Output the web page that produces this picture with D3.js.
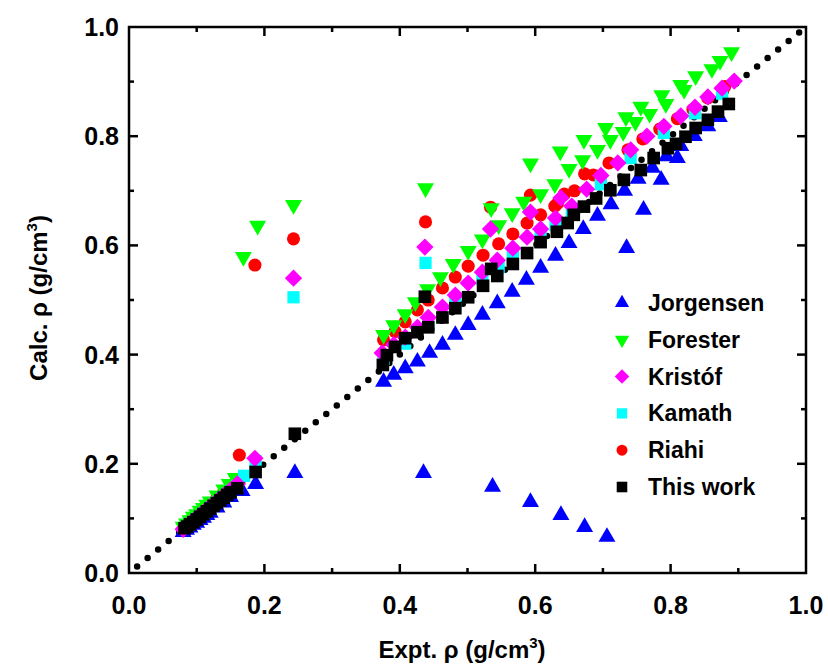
<!DOCTYPE html>
<html>
<head>
<meta charset="utf-8">
<script src="https://cdn.jsdelivr.net/npm/d3@7"></script>
<style>
  body { margin: 0; background: #fff; }
  svg text { font-family: Arial, "Liberation Sans", sans-serif; font-weight: bold; }
</style>
</head>
<body>
<script>
// expt density vs calculated density, per force field
const jorgensen = [
  [0.08,0.075],[0.085,0.079],[0.09,0.083],[0.095,0.088],[0.10,0.092],[0.105,0.097],[0.11,0.101],
  [0.115,0.106],[0.12,0.11],[0.13,0.12],[0.14,0.129],[0.15,0.139],[0.167,0.15],[0.187,0.163],[0.245,0.183],
  [0.376,0.350],[0.391,0.363],[0.408,0.375],[0.426,0.387],[0.444,0.403],[0.463,0.418],[0.482,0.436],
  [0.501,0.454],[0.522,0.473],[0.544,0.494],[0.566,0.515],[0.587,0.537],[0.608,0.559],[0.630,0.581],
  [0.650,0.604],[0.671,0.630],[0.692,0.654],[0.712,0.675],[0.732,0.700],[0.752,0.722],[0.773,0.742],
  [0.794,0.763],[0.815,0.782],[0.835,0.800],[0.855,0.818],[0.872,0.835],
  [0.435,0.183],[0.537,0.158],[0.593,0.130],[0.638,0.106],[0.673,0.084],[0.706,0.066],
  [0.735,0.595],[0.760,0.665],[0.786,0.720],[0.810,0.760]
];
const forester = [
  [0.08,0.085],[0.085,0.091],[0.09,0.097],[0.095,0.103],[0.10,0.108],[0.105,0.114],[0.11,0.119],
  [0.115,0.125],[0.12,0.131],[0.13,0.142],[0.14,0.153],[0.148,0.163],[0.157,0.174],
  [0.169,0.579],[0.19,0.636],[0.243,0.674],[0.438,0.705],[0.535,0.668],
  [0.376,0.436],[0.391,0.454],[0.408,0.474],[0.423,0.496],[0.441,0.520],[0.460,0.542],[0.479,0.566],
  [0.501,0.590],[0.522,0.611],[0.546,0.637],[0.566,0.659],[0.583,0.680],[0.608,0.694],[0.629,0.712],
  [0.650,0.740],[0.670,0.756],[0.692,0.775],[0.711,0.793],[0.730,0.808],[0.748,0.826],[0.769,0.841],
  [0.793,0.859],[0.820,0.885],
  [0.593,0.750],[0.637,0.772],[0.672,0.793],[0.704,0.815],[0.734,0.835],[0.756,0.854],[0.787,0.875],
  [0.815,0.894],[0.837,0.910],[0.861,0.923],[0.873,0.938],[0.890,0.954]
];
const kristof = [
  [0.08,0.08],[0.085,0.086],[0.09,0.091],[0.095,0.096],[0.10,0.101],[0.105,0.106],[0.11,0.111],
  [0.115,0.116],[0.12,0.122],[0.13,0.132],[0.14,0.142],[0.15,0.152],[0.16,0.163],
  [0.186,0.21],[0.243,0.54],[0.437,0.597],[0.534,0.630],[0.593,0.661],[0.638,0.687],
  [0.374,0.403],[0.391,0.418],[0.408,0.432],[0.426,0.450],[0.442,0.468],[0.463,0.487],[0.482,0.509],
  [0.501,0.531],[0.522,0.551],[0.544,0.573],[0.567,0.595],[0.588,0.615],[0.608,0.630],[0.630,0.650],
  [0.654,0.672],[0.676,0.703],[0.697,0.728],[0.722,0.751],[0.741,0.775],[0.765,0.800],[0.790,0.818],
  [0.815,0.837],[0.836,0.853],[0.855,0.872],[0.876,0.888],[0.894,0.901]
];
const kamath = [
  [0.09,0.089],[0.10,0.099],[0.11,0.109],[0.12,0.119],[0.13,0.129],[0.14,0.139],[0.15,0.149],
  [0.16,0.159],[0.17,0.178],[0.187,0.205],[0.243,0.505],[0.438,0.568],
  [0.376,0.392],[0.408,0.420],[0.442,0.455],[0.482,0.495],[0.522,0.538],[0.546,0.560],[0.567,0.580],
  [0.608,0.618],[0.630,0.637],[0.654,0.660],[0.697,0.712],[0.741,0.760],[0.790,0.806],[0.836,0.842],
  [0.876,0.878]
];
const riahi = [
  [0.08,0.083],[0.085,0.089],[0.09,0.095],[0.095,0.10],[0.10,0.105],[0.105,0.11],[0.11,0.116],
  [0.115,0.121],[0.12,0.127],[0.13,0.137],[0.14,0.148],[0.15,0.158],
  [0.163,0.216],[0.186,0.564],[0.243,0.612],[0.438,0.643],[0.534,0.670],[0.593,0.692],
  [0.376,0.427],[0.393,0.442],[0.408,0.460],[0.426,0.482],[0.442,0.500],[0.463,0.522],[0.482,0.542],
  [0.501,0.562],[0.523,0.582],[0.546,0.603],[0.567,0.621],[0.588,0.641],[0.608,0.656],[0.629,0.672],
  [0.633,0.677],[0.643,0.694],[0.658,0.700],[0.673,0.731],[0.686,0.729],[0.709,0.751],[0.737,0.775],
  [0.759,0.795],[0.784,0.813],[0.810,0.832],[0.833,0.849],[0.855,0.870],[0.880,0.891]
];
const thisWork = [
  [0.082,0.082],[0.086,0.085],[0.09,0.089],[0.095,0.093],[0.10,0.098],[0.105,0.103],[0.11,0.108],
  [0.115,0.113],[0.12,0.118],[0.125,0.123],[0.13,0.128],[0.135,0.133],[0.14,0.138],[0.145,0.143],
  [0.15,0.148],[0.16,0.155],[0.187,0.185],[0.245,0.255],
  [0.437,0.506],[0.535,0.557],
  [0.375,0.381],[0.381,0.399],[0.393,0.414],[0.408,0.430],[0.426,0.441],[0.442,0.450],[0.463,0.468],
  [0.482,0.485],[0.501,0.505],[0.523,0.526],[0.544,0.544],[0.567,0.566],[0.588,0.586],[0.608,0.606],
  [0.632,0.625],[0.648,0.641],[0.657,0.656],[0.672,0.671],[0.690,0.686],[0.711,0.701],[0.731,0.720],
  [0.756,0.738],[0.775,0.760],[0.796,0.778],[0.808,0.786],[0.822,0.799],[0.837,0.815],[0.855,0.830],
  [0.870,0.845],[0.886,0.859]
];

const seriesNames = ["Jorgensen", "Forester", "Kristóf", "Kamath", "Riahi", "This work"];
const xTicks = [0.0, 0.2, 0.4, 0.6, 0.8, 1.0];
const yTicks = [0.0, 0.2, 0.4, 0.6, 0.8, 1.0];
const minorTicks = [0.1, 0.3, 0.5, 0.7, 0.9];

const width = 828, height = 667;
const margin = {left: 129, right: 22, top: 27, bottom: 94};

const svg = d3.select("body").append("svg")
    .attr("width", width)
    .attr("height", height);

const x = d3.scaleLinear().domain([0, 1]).range([margin.left, width - margin.right]);
const y = d3.scaleLinear().domain([0, 1]).range([height - margin.bottom, margin.top]);

// marker styles, drawing order = legend order except Riahi below the diamonds
const styles = {
    "Jorgensen": {data: jorgensen, color: "#0000ff", type: d3.symbolTriangle, size: 125, rot: 0},
    "Riahi":     {data: riahi, color: "#ff0000", type: d3.symbolCircle, size: 135, rot: 0},
    "Forester":  {data: forester, color: "#00ff00", type: d3.symbolTriangle, size: 125, rot: 180},
    "Kamath":    {data: kamath, color: "#00ffff", type: d3.symbolSquare, size: 150, rot: 0},
    "Kristóf":   {data: kristof, color: "#ff00ff", type: d3.symbolSquare, size: 150, rot: 45},
    "This work": {data: thisWork, color: "#000000", type: d3.symbolSquare, size: 160, rot: 0}
};
const drawOrder = ["Jorgensen", "Riahi", "Forester", "Kamath", "Kristóf", "This work"];

// y = x reference line
svg.append("line")
    .attr("x1", x(0.012)).attr("y1", y(0.012))
    .attr("x2", x(1)).attr("y2", y(1))
    .attr("stroke", "#000")
    .attr("stroke-width", 6.5)
    .attr("stroke-linecap", "round")
    .attr("stroke-dasharray", "0 13.5");

drawOrder.forEach(name => {
    const s = styles[name];
    const sym = d3.symbol().type(s.type).size(s.size);
    svg.append("g").selectAll("path")
        .data(s.data)
        .join("path")
        .attr("d", sym)
        .attr("fill", s.color)
        .attr("transform", d => `translate(${x(d[0])},${y(d[1])}) rotate(${s.rot})`);
});

// frame
svg.append("rect")
    .attr("x", x(0)).attr("y", y(1))
    .attr("width", x(1) - x(0)).attr("height", y(0) - y(1))
    .attr("fill", "none").attr("stroke", "#000").attr("stroke-width", 2.5);

const tickG = svg.append("g").attr("stroke", "#000").attr("stroke-width", 2.5);
const addTicks = (vals, len) => {
    vals.forEach(v => {
        tickG.append("line").attr("x1", x(v)).attr("x2", x(v)).attr("y1", y(0)).attr("y2", y(0) - len);
        tickG.append("line").attr("x1", x(v)).attr("x2", x(v)).attr("y1", y(1)).attr("y2", y(1) + len);
        tickG.append("line").attr("y1", y(v)).attr("y2", y(v)).attr("x1", x(0)).attr("x2", x(0) + len);
        tickG.append("line").attr("y1", y(v)).attr("y2", y(v)).attr("x1", x(1)).attr("x2", x(1) - len);
    });
};
addTicks(xTicks.slice(1, -1), 9);
addTicks(minorTicks, 5);

svg.append("g").selectAll("text")
    .data(xTicks)
    .join("text")
    .attr("x", d => x(d))
    .attr("y", y(0) + 41)
    .attr("text-anchor", "middle")
    .attr("font-size", 25)
    .text(d => d.toFixed(1));

svg.append("g").selectAll("text")
    .data(yTicks)
    .join("text")
    .attr("x", x(0) - 10)
    .attr("y", d => y(d) + 9)
    .attr("text-anchor", "end")
    .attr("font-size", 25)
    .text(d => d.toFixed(1));

// axis titles
const xt = svg.append("text")
    .attr("x", 462).attr("y", 658)
    .attr("text-anchor", "middle")
    .attr("font-size", 24);
xt.append("tspan").text("Expt. ρ (g/cm");
xt.append("tspan").attr("dy", -10).attr("font-size", 15).text("3");
xt.append("tspan").attr("dy", 10).text(")");

const yt = svg.append("text")
    .attr("transform", "translate(47,298) rotate(-90)")
    .attr("text-anchor", "middle")
    .attr("font-size", 24);
yt.append("tspan").text("Calc. ρ (g/cm");
yt.append("tspan").attr("dy", -10).attr("font-size", 15).text("3");
yt.append("tspan").attr("dy", 10).text(")");

// legend
const legend = svg.append("g").attr("transform", "translate(622,303)");
seriesNames.forEach((name, i) => {
    const s = styles[name];
    const sym = d3.symbol().type(s.type).size(s.size * 0.7);
    const row = legend.append("g").attr("transform", `translate(0,${i * 36.8})`);
    row.append("path")
        .attr("d", sym)
        .attr("fill", s.color)
        .attr("transform", `rotate(${s.rot})`);
    row.append("text")
        .attr("x", 26).attr("y", 8)
        .attr("font-size", 23)
        .text(name);
});
</script>
</body>
</html>
